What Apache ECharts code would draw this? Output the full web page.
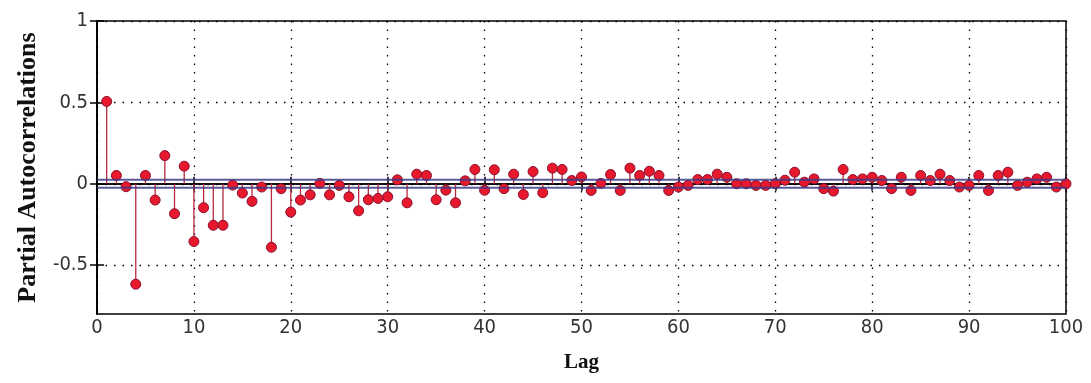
<!DOCTYPE html>
<html>
<head>
<meta charset="utf-8">
<script src="https://cdn.jsdelivr.net/npm/echarts@6/dist/echarts.min.js"></script>
<style>
html,body{margin:0;padding:0;background:#fff;}
#chart{width:1091px;height:383px;}
</style>
</head>
<body>
<div id="chart"></div>
<script>
const lags = [];
for (let i = 1; i <= 100; i++) lags.push(i);
const pacf = [
  0.506, 0.051, -0.018, -0.617, 0.051, -0.100, 0.173, -0.184, 0.108, -0.355,
  -0.147, -0.255, -0.255, -0.008, -0.057, -0.108, -0.020, -0.390, -0.030, -0.174,
  -0.100, -0.068, 0.002, -0.068, -0.010, -0.080, -0.166, -0.098, -0.090, -0.080,
  0.024, -0.117, 0.059, 0.051, -0.098, -0.039, -0.117, 0.018, 0.088, -0.040,
  0.086, -0.030, 0.059, -0.066, 0.075, -0.055, 0.096, 0.088, 0.020, 0.042,
  -0.041, 0.002, 0.057, -0.041, 0.096, 0.051, 0.077, 0.051, -0.041, -0.020,
  -0.010, 0.026, 0.026, 0.059, 0.040, 0.000, 0.000, -0.010, -0.010, 0.000,
  0.022, 0.071, 0.010, 0.030, -0.030, -0.045, 0.088, 0.026, 0.030, 0.040,
  0.020, -0.030, 0.040, -0.041, 0.051, 0.020, 0.059, 0.020, -0.020, -0.010,
  0.051, -0.041, 0.051, 0.071, -0.010, 0.010, 0.030, 0.040, -0.020, 0.000
];
const confBound = 0.024;
const xTicks = [0,10,20,30,40,50,60,70,80,90,100];
const yTicks = [-0.5, 0, 0.5, 1];

const points = lags.map((l, i) => [l, pacf[i]]);

const chart = echarts.init(document.getElementById('chart'));
const tickFont = {color:'#333', fontFamily:'Liberation Sans Narrow, DejaVu Sans Condensed, sans-serif', fontSize:20};
const dotted = {color:'#000', width:1.3, type:[1.5,7]};

chart.setOption({
  backgroundColor:'#fff',
  animation:false,
  grid:{left:97, right:25, top:21, bottom:69, show:true, borderColor:'#000', borderWidth:1.5, backgroundColor:'#fff'},
  xAxis:[{
    type:'value', min:0, max:100, interval:10, position:'bottom',
    name:'Lag', nameLocation:'middle', nameGap:38,
    nameTextStyle:{fontFamily:'Liberation Serif, serif', fontWeight:'bold', fontSize:21, color:'#111'},
    axisLine:{show:true, lineStyle:{color:'#000', width:1.5}},
    axisTick:{show:true, inside:true, length:7, lineStyle:{color:'#000', width:1.5}},
    axisLabel:Object.assign({margin:4}, tickFont),
    splitLine:{show:true, lineStyle:dotted}
  },{
    type:'value', min:0, max:100, interval:10, position:'top',
    axisLine:{show:true, lineStyle:{color:'#000', width:1.5}},
    axisTick:{show:true, inside:true, length:7, lineStyle:{color:'#000', width:1.5}},
    axisLabel:{show:false}, splitLine:{show:false}
  }],
  yAxis:[{
    type:'value', min:-0.8, max:1, position:'left',
    name:'Partial Autocorrelations', nameLocation:'middle', nameGap:56, nameRotate:90,
    nameTextStyle:{fontFamily:'Liberation Serif, serif', fontWeight:'bold', fontSize:26, color:'#111'},
    axisLine:{show:true, lineStyle:{color:'#000', width:1.5}},
    axisTick:{show:true, inside:true, length:7, customValues:yTicks, lineStyle:{color:'#000', width:1.5}},
    axisLabel:Object.assign({margin:9, customValues:yTicks}, tickFont),
    splitLine:{show:true, customValues:yTicks, lineStyle:dotted}
  },{
    type:'value', min:-0.8, max:1, position:'right',
    axisLine:{show:true, lineStyle:{color:'#000', width:1.5}},
    axisTick:{show:true, inside:true, length:7, customValues:yTicks, lineStyle:{color:'#000', width:1.5}},
    axisLabel:{show:false}, splitLine:{show:false}
  }],
  series:[{
    type:'custom', xAxisIndex:0, yAxisIndex:0, z:2,
    data:points,
    renderItem:function(params, api){
      const p0 = api.coord([api.value(0), 0]);
      const p1 = api.coord([api.value(0), api.value(1)]);
      return {type:'line', shape:{x1:p0[0], y1:p0[1], x2:p1[0], y2:p1[1]},
        style:{stroke:'#b8283e', lineWidth:1.3}};
    }
  },{
    type:'scatter', xAxisIndex:0, yAxisIndex:0, z:3,
    data:points, symbol:'circle', symbolSize:10,
    itemStyle:{color:'#e8192c', borderColor:'#8a1030', borderWidth:1, opacity:1}
  },{
    type:'line', xAxisIndex:0, yAxisIndex:0, z:4, symbol:'none',
    data:[[0, confBound],[100, confBound]],
    lineStyle:{color:'#3c3c88', width:2, opacity:0.85}
  },{
    type:'line', xAxisIndex:0, yAxisIndex:0, z:4, symbol:'none',
    data:[[0, -confBound],[100, -confBound]],
    lineStyle:{color:'#3c3c88', width:2, opacity:0.85}
  }]
});
</script>
</body>
</html>
